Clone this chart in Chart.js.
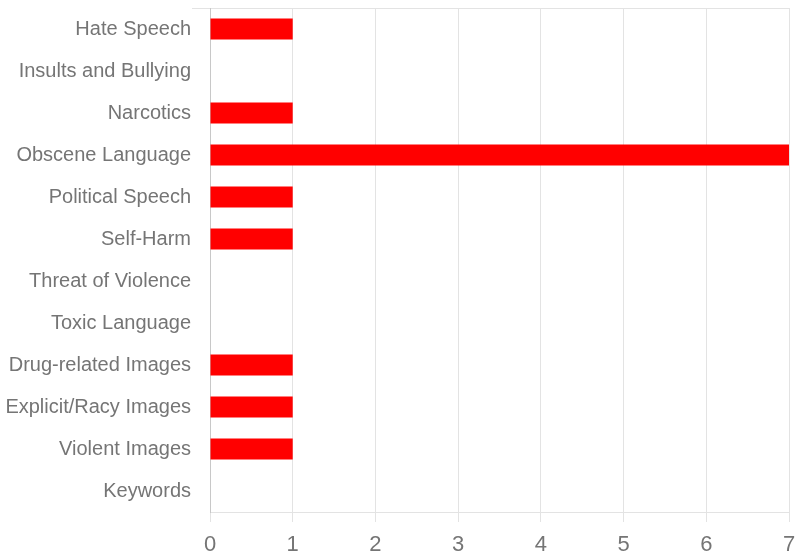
<!DOCTYPE html>
<html>
<head>
<meta charset="utf-8">
<script src="https://cdn.jsdelivr.net/npm/chart.js@4"></script>
<style>
  html, body { margin: 0; padding: 0; background: #fff; }
  #wrap { width: 806px; height: 554px; }
</style>
</head>
<body>
<div id="wrap"><canvas id="myChart" width="806" height="554"></canvas></div>
<script>
var categories = ["Hate Speech", "Insults and Bullying", "Narcotics", "Obscene Language",
  "Political Speech", "Self-Harm", "Threat of Violence", "Toxic Language",
  "Drug-related Images", "Explicit/Racy Images", "Violent Images", "Keywords"];
var counts = [1, 0, 1, 7, 1, 1, 0, 0, 1, 1, 1, 0];
var xTicks = [0, 1, 2, 3, 4, 5, 6, 7];

var ctx = document.getElementById("myChart").getContext("2d");
var chart = new Chart(ctx, {
  type: "bar",
  data: {
    labels: categories,
    datasets: [{
      data: counts,
      backgroundColor: "#ff0000",
      borderWidth: 0,
      barPercentage: 0.5,
      categoryPercentage: 1.0
    }]
  },
  options: {
    indexAxis: "y",
    responsive: false,
    animation: false,
    layout: { padding: { top: 8, right: 17, left: 0, bottom: 0 } },
    plugins: { legend: { display: false }, tooltip: { enabled: false } },
    scales: {
      x: {
        min: 0,
        max: xTicks[xTicks.length - 1],
        afterBuildTicks: function (axis) {
          axis.ticks = xTicks.map(function (v) { return { value: v }; });
        },
        grid: { color: "#e3e3e3", lineWidth: 1, tickLength: 10, drawTicks: true },
        border: { display: true, color: "#e3e3e3" },
        ticks: { color: "#757575", font: { family: "Liberation Sans", size: 22 }, padding: 10 },
        afterFit: function (axis) { axis.height = 42; }
      },
      y: {
        grid: {
          offset: true,
          tickLength: 18,
          color: function (c) { return c.index === 0 ? "#e3e3e3" : "rgba(0,0,0,0)"; }
        },
        border: { display: true, color: "#c8c8c8" },
        ticks: { color: "#757575", font: { family: "Liberation Sans", size: 20 }, padding: 1 },
        afterFit: function (axis) {
          axis.width = 210;
          axis.paddingTop = 0;
          axis.paddingBottom = 0;
        }
      }
    }
  }
});
</script>
</body>
</html>
